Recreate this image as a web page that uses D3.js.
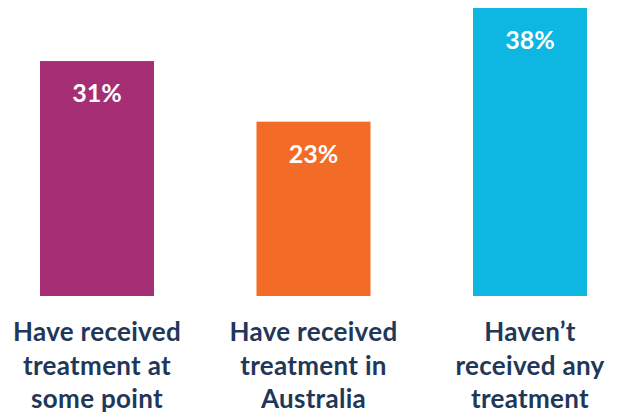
<!DOCTYPE html>
<html><head><meta charset="utf-8">
<script src="https://cdn.jsdelivr.net/npm/d3@7"></script>
<style>html,body{margin:0;padding:0;background:#fff;}</style>
</head><body>
<script>
const categories = ["Have received treatment at some point", "Have received treatment in Australia", "Haven\u2019t received any treatment"];
const labelLines = [["Have received","treatment at","some point"],["Have received","treatment in","Australia"],["Haven\u2019t","received any","treatment"]];
const values = [31, 23, 38];
const colors = ["#a52e75", "#f26c27", "#0db7e2"];

const W = 620, H = 416;
const svg = d3.select("body").append("svg").attr("width", W).attr("height", H);
const xb = d3.scaleBand().domain(categories).range([40, 587]).paddingInner(0.4734).paddingOuter(0);
const y = d3.scaleLinear().domain([0, 38]).range([296, 8]);

svg.selectAll("rect.bar").data(values).join("rect")
  .attr("x", (d,i)=>xb(categories[i]))
  .attr("width", xb.bandwidth())
  .attr("y", d=>y(d))
  .attr("height", d=>y(0)-y(d))
  .attr("fill", (d,i)=>colors[i]);

svg.selectAll("text.val").data(values).join("text")
  .attr("x", (d,i)=>xb(categories[i]) + xb.bandwidth()/2)
  .attr("y", d=>y(d)+41)
  .attr("text-anchor","middle")
  .attr("fill","#fff")
  .attr("font-family","Lato, sans-serif")
  .attr("font-weight","bold")
  .attr("font-size","25px")
  .text(d=>d+"%");

const lab = svg.selectAll("text.cat").data(categories).join("text")
  .attr("text-anchor","middle")
  .attr("fill","#1f3759")
  .attr("font-family","Lato, sans-serif")
  .attr("font-weight","bold")
  .attr("font-size","26px")
  .attr("letter-spacing","0.3px");
lab.each(function(d,i){
  const cx = xb(d) + xb.bandwidth()/2;
  d3.select(this).selectAll("tspan").data(labelLines[i]).join("tspan")
    .attr("x", cx).attr("y", (t,j)=>341 + j*33.5).text(t=>t);
});
</script>
</body></html>
